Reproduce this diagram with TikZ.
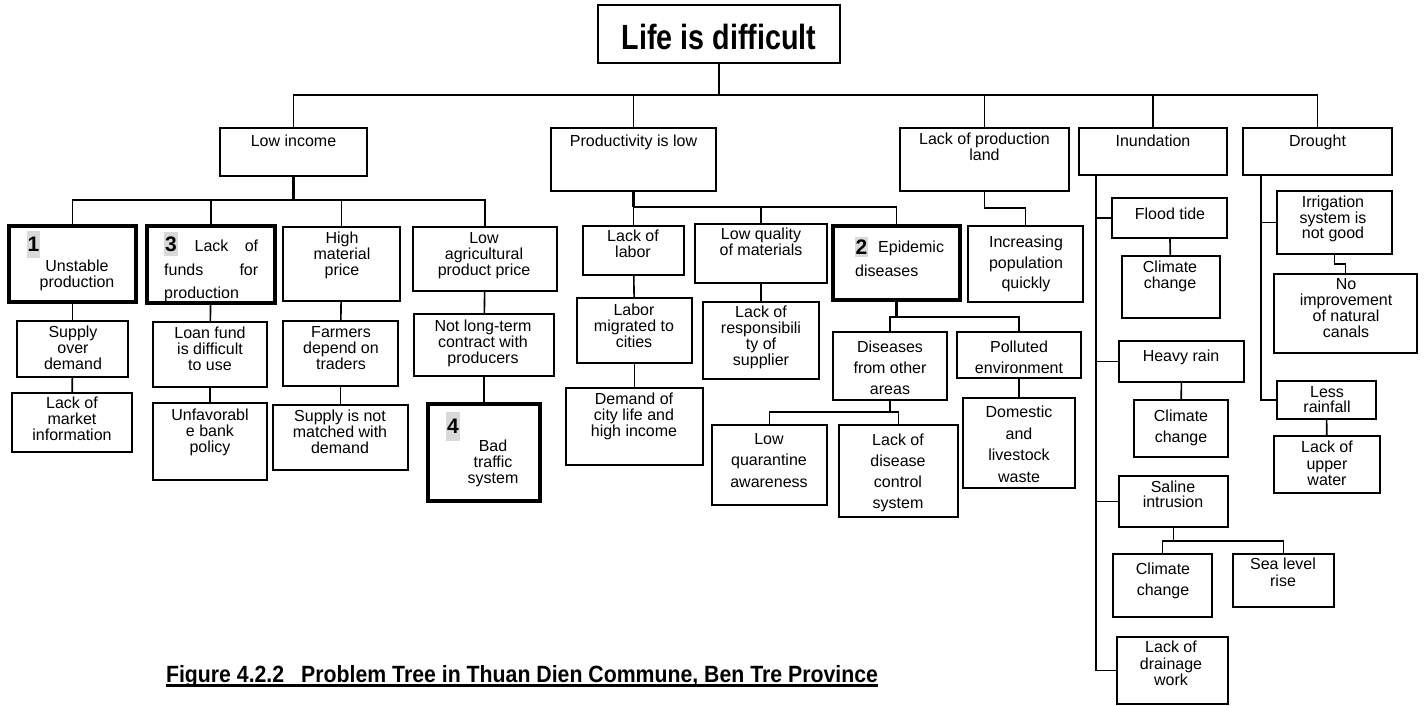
\documentclass[tikz,border=0pt]{standalone}
\usepackage{fontspec}
\setmainfont{Liberation Sans}
\newfontfamily\headfont[FakeStretch=0.82]{Liberation Sans}
\newfontfamily\capfont[FakeStretch=0.905]{Liberation Sans}
\definecolor{tagbg}{HTML}{D9D9D9}

\begin{document}
\begin{tikzpicture}[x=1pt,y=-1pt]
\tikzset{
  lead/.style={font=\fontsize{16}{#1}\selectfont},
  prob/.style={draw, line width=1.6pt, inner sep=0pt},
  core/.style={prob, line width=3.6pt},
  txt/.style={inner sep=0pt, align=center, anchor=north, lead=16},
  tag/.style={fill=tagbg, inner sep=0pt, font=\fontsize{21}{21}\selectfont\bfseries},
  link/.style={line width=1.6pt},
  stem/.style={line width=2.6pt}
}
\useasboundingbox (0,0) rectangle (1424,706);

% top problem and the five direct causes
\node[prob, minimum width=242, minimum height=58] (root) at (719,34) {};
\node[prob, minimum width=147, minimum height=48] (lowinc) at (293.5,152) {};
\node[prob, minimum width=165, minimum height=63] (prod) at (633.5,159.5) {};
\node[prob, minimum width=169, minimum height=63] (land) at (984.5,159.5) {};
\node[prob, minimum width=148, minimum height=47] (inund) at (1153,151.5) {};
\node[prob, minimum width=149, minimum height=47] (drought) at (1317.5,151.5) {};

% low income branch
\node[core, minimum width=127, minimum height=76] (unstable) at (72.5,264) {};
\node[core, minimum width=128, minimum height=77] (funds) at (211,264.5) {};
\node[prob, minimum width=117, minimum height=74] (highmat) at (341.5,264) {};
\node[prob, minimum width=144, minimum height=64] (lowagr) at (485,259) {};
\node[prob, minimum width=111, minimum height=56] (supply) at (72.5,349) {};
\node[prob, minimum width=120, minimum height=59] (market) at (72,422.5) {};
\node[prob, minimum width=114, minimum height=65] (loan) at (210,354.5) {};
\node[prob, minimum width=114, minimum height=77] (bank) at (210,441.5) {};
\node[prob, minimum width=115, minimum height=65] (farmers) at (340.5,353.5) {};
\node[prob, minimum width=135, minimum height=65] (notmatch) at (340.5,437.5) {};
\node[prob, minimum width=140, minimum height=62] (contract) at (484,345) {};
\node[core, minimum width=112, minimum height=97] (traffic) at (484,452.5) {};

% productivity branch
\node[prob, minimum width=101, minimum height=49] (labor) at (633.5,250.5) {};
\node[prob, minimum width=132, minimum height=59] (quality) at (761,253.5) {};
\node[core, minimum width=127, minimum height=74] (epidemic) at (896.5,263) {};
\node[prob, minimum width=115, minimum height=65] (migrated) at (634.5,330.5) {};
\node[prob, minimum width=137, minimum height=77] (citylife) at (634.5,426.5) {};
\node[prob, minimum width=116, minimum height=77] (supplier) at (761,340.5) {};
\node[prob, minimum width=114, minimum height=68] (otherareas) at (890,366) {};
\node[prob, minimum width=124, minimum height=46] (polluted) at (1019,355) {};
\node[prob, minimum width=115, minimum height=80] (quarantine) at (769.5,465) {};
\node[prob, minimum width=119, minimum height=92] (diseasectl) at (898.5,471) {};
\node[prob, minimum width=112, minimum height=90] (waste) at (1019,443) {};

% land branch
\node[prob, minimum width=115, minimum height=76] (population) at (1025.5,264) {};

% inundation branch
\node[prob, minimum width=115, minimum height=40] (floodtide) at (1169.5,218) {};
\node[prob, minimum width=98, minimum height=62] (climate1) at (1171,287) {};
\node[prob, minimum width=125, minimum height=41] (heavyrain) at (1181.5,361.5) {};
\node[prob, minimum width=94, minimum height=57] (climate2) at (1181,428.5) {};
\node[prob, minimum width=109, minimum height=51] (saline) at (1173.5,501.5) {};
\node[prob, minimum width=99, minimum height=63] (climate3) at (1162.5,585.5) {};
\node[prob, minimum width=101, minimum height=53] (sealevel) at (1283.5,580.5) {};
\node[prob, minimum width=111, minimum height=67] (drainage) at (1172.5,670.5) {};

% drought branch
\node[prob, minimum width=115, minimum height=63] (irrigation) at (1334.5,222.5) {};
\node[prob, minimum width=143, minimum height=79] (canals) at (1345.5,313.5) {};
\node[prob, minimum width=99, minimum height=38] (rainfall) at (1326.5,400) {};
\node[prob, minimum width=106, minimum height=57] (upperwater) at (1327,464.5) {};

% connectors
\coordinate (rootbus) at (719,95);
\draw[stem] (root) -- (rootbus);
\foreach \n in {lowinc,prod,land,inund,drought} \draw[link] (rootbus) -| (\n.north);

\coordinate (lowbus) at (293.5,200);
\draw[stem] (lowinc) -- (lowbus);
\foreach \n in {unstable,funds,highmat,lowagr} \draw[link] (lowbus) -| (\n.north);
\draw[link] (unstable) -- (supply);
\draw[link] (supply) -- (market);
\draw[link] (funds) -- (loan);
\draw[link] (loan) -- (bank);
\draw[link] (highmat) -- (farmers);
\draw[link] (farmers) -- (notmatch);
\draw[link] (lowagr) -- (contract);
\draw[link] (contract) -- (traffic);

\coordinate (prodbus) at (633.5,207);
\draw[stem] (prod) -- (prodbus);
\foreach \n in {labor,quality,epidemic} \draw[link] (prodbus) -| (\n.north);
\draw[link] (labor) -- (migrated);
\draw[link] (migrated) -- (citylife);
\draw[link] (quality) -- (supplier);
\coordinate (epibus) at (896.5,317);
\draw[stem] (epidemic) -- (epibus);
\foreach \n in {otherareas,polluted} \draw[link] (epibus) -| (\n.north);
\coordinate (areabus) at (890,412);
\draw[link] (otherareas) -- (areabus);
\foreach \n in {quarantine,diseasectl} \draw[link] (areabus) -| (\n.north);
\draw[link] (polluted) -- (waste);

\draw[link] (land.south) -- ++(0,16) -| (population.north);

\coordinate (inundspine) at (1096,175.5);
\foreach \n in {floodtide,heavyrain,saline,drainage} \draw[link] (inundspine) |- (\n.west);
\draw[link] (floodtide) -- (climate1);
\draw[link] (heavyrain) -- (climate2);
\coordinate (salbus) at (1173.5,541);
\draw[link] (saline) -- (salbus);
\foreach \n in {climate3,sealevel} \draw[link] (salbus) -| (\n.north);

\coordinate (droughtspine) at (1261,175.5);
\foreach \n in {irrigation,rainfall} \draw[link] (droughtspine) |- (\n.west);
\draw[link] (irrigation.south) -- ++(0,9) -| (canals.north);
\draw[link] (rainfall) -- (upperwater);

% numbered priorities
\node[tag, minimum width=13, minimum height=27] (unstable-n) at (33.5,244.5) {1};
\node[tag, minimum width=14, minimum height=24] (funds-n) at (171,244) {3};
\node[tag, minimum width=13, minimum height=20] (epidemic-n) at (861.5,247) {2};
\node[tag, minimum width=14, minimum height=29] (traffic-n) at (453,426.5) {4};

% texts
\node[inner sep=0pt, font={\headfont\bfseries\fontsize{35}{40}\selectfont}] (root-t) at (719,36.5) {Life is difficult};
\node[txt] (lowinc-t) at (293.5,135) {Low income};
\node[txt] (prod-t) at (633.5,135) {Productivity is low};
\node[txt, lead=14] (land-t) at (984.5,133) {Lack of production\\land};
\node[txt] (inund-t) at (1153,135) {Inundation};
\node[txt] (drought-t) at (1317.5,135) {Drought};

\node[txt] (unstable-t) at (77,260) {Unstable\\production};
\node[txt, anchor=north west, align=left, lead=23.5] (funds-t) at (164,240)
  {\hbox to 94pt{\hskip 14pt\hfill Lack\hfill of}\\\hbox to 94pt{funds\hfill for}\\production};
\node[txt] (highmat-t) at (342,232) {High\\material\\price};
\node[txt] (lowagr-t) at (484,232) {Low\\agricultural\\product price};
\node[txt] (supply-t) at (73,326) {Supply\\over\\demand};
\node[txt] (market-t) at (72,397) {Lack of\\market\\information};
\node[txt] (loan-t) at (210,327) {Loan fund\\is difficult\\to use};
\node[txt] (bank-t) at (210,409) {Unfavorabl\\e bank\\policy};
\node[txt] (farmers-t) at (341,326) {Farmers\\depend on\\traders};
\node[txt] (notmatch-t) at (340,410) {Supply is not\\matched with\\demand};
\node[txt] (contract-t) at (483,320) {Not long-term\\contract with\\producers};
\node[txt] (traffic-t) at (493,440) {Bad\\traffic\\system};

\node[txt] (labor-t) at (633,230) {Lack of\\labor};
\node[txt] (quality-t) at (761,228) {Low quality\\of materials};
\node[txt, anchor=north west, align=left, lead=24] (epidemic-t) at (855,241) {\hspace*{23pt}Epidemic\\diseases};
\node[txt] (migrated-t) at (634,304) {Labor\\migrated to\\cities};
\node[txt] (citylife-t) at (634,393) {Demand of\\city life and\\high income};
\node[txt] (supplier-t) at (761,306) {Lack of\\responsibili\\ty of\\supplier};
\node[txt, lead=21] (otherareas-t) at (890,341) {Diseases\\from other\\areas};
\node[txt, lead=21] (polluted-t) at (1019,341) {Polluted\\environment};
\node[txt, lead=21.5] (quarantine-t) at (769,433) {Low\\quarantine\\awareness};
\node[txt, lead=21] (diseasectl-t) at (898,434) {Lack of\\disease\\control\\system};
\node[txt, lead=21.5] (waste-t) at (1019,406) {Domestic\\and\\livestock\\waste};
\node[txt, lead=20.5] (population-t) at (1026,236) {Increasing\\population\\quickly};

\node[txt] (floodtide-t) at (1170,208) {Flood tide};
\node[txt] (climate1-t) at (1170,261) {Climate\\change};
\node[txt] (heavyrain-t) at (1181,350) {Heavy rain};
\node[txt, lead=21] (climate2-t) at (1181,410) {Climate\\change};
\node[txt, lead=15] (saline-t) at (1173,481) {Saline\\intrusion};
\node[txt, lead=21] (climate3-t) at (1163,563) {Climate\\change};
\node[txt, lead=17] (sealevel-t) at (1283,558) {Sea level\\rise};
\node[txt, lead=16.5] (drainage-t) at (1171,641) {Lack of\\drainage\\work};

\node[txt, lead=15.5] (irrigation-t) at (1333,196) {Irrigation\\system is\\not good};
\node[txt] (canals-t) at (1346,278) {No\\improvement\\of natural\\canals};
\node[txt, lead=15] (rainfall-t) at (1327,386) {Less\\rainfall};
\node[txt, lead=16.5] (upperwater-t) at (1327,441) {Lack of\\upper\\water};

% caption
\node[anchor=base, inner sep=0pt, font={\capfont\bfseries\fontsize{23.5}{28}\selectfont}] (caption) at (522,682)
  {Figure 4.2.2\hspace{17pt}Problem Tree in Thuan Dien Commune, Ben Tre Province};
\draw[line width=2.4pt] ([yshift=-3.5pt]caption.base west) -- ([yshift=-3.5pt]caption.base east);
\end{tikzpicture}
\end{document}
